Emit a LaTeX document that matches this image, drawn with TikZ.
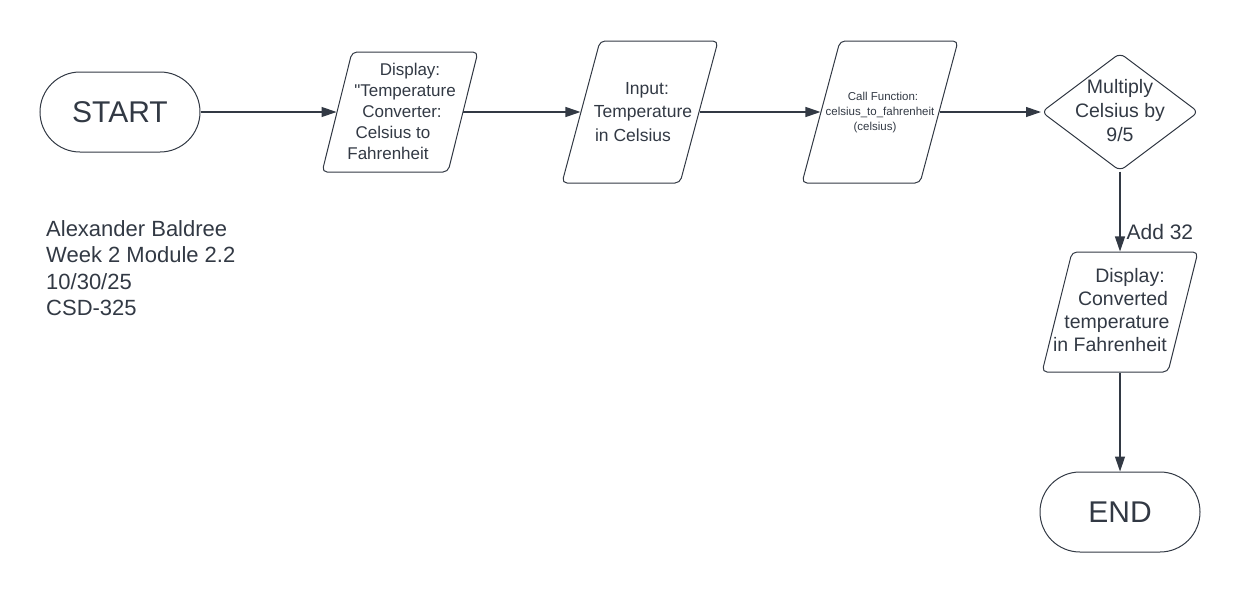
\documentclass[tikz,border=0pt]{standalone}
\usepackage{fontspec}
\setmainfont{Liberation Sans}[Ligatures=TeXOff]
\usepackage{xcolor}
\usepackage{tikz}
\usetikzlibrary{positioning}
\usetikzlibrary{shapes.geometric}
\usetikzlibrary{arrows.meta}

\definecolor{ink}{RGB}{50,57,68}
% shift one centred line sideways by half the given length
\newcommand{\nudge}[1]{\hspace*{#1}}

\begin{document}
\begin{tikzpicture}[x=1pt, y=-1pt,
  every node/.style={text=ink},
  terminal/.style={draw=ink, line width=1pt, rectangle, rounded corners=40pt, minimum width=160pt, minimum height=80pt, font=\fontsize{30}{34}\selectfont},
  io/.style={draw=ink, line width=1pt, trapezium, trapezium left angle=76, trapezium right angle=104, rounded corners=5pt, inner xsep=48pt, inner ysep=60pt},
  tall/.style={inner xsep=40pt, inner ysep=71pt, trapezium left angle=75, trapezium right angle=105},
  decision/.style={draw=ink, line width=1pt, diamond, rounded corners=6pt, minimum width=157pt, minimum height=118pt, inner sep=0pt},
  txt/.style={align=center, inner sep=0pt, font=\fontsize{17}{21}\selectfont},
  flow/.style={draw=ink, line width=1.2pt, -{Triangle[length=15pt, width=10pt]}}
]
\useasboundingbox (0,0) rectangle (1240,592);

% top row
\node[terminal] (start) at (120,112) {START};
\node[io] (disp) at (400,112) {};
\node[txt] (disptxt) at (400,111) {\nudge{20pt}Display:\\\nudge{10pt}"Temperature\\\nudge{4pt}Converter:\\\nudge{-14pt}Celsius to\\\nudge{-24pt}Fahrenheit};
\node[io, tall] (input) at (640,112) {};
\node[txt, font=\fontsize{17.5}{23.5}\selectfont] (inputtxt) at (640,112) {\nudge{14pt}Input:\\\nudge{6pt}Temperature\\\nudge{-14pt}in Celsius};
\node[io, tall] (call) at (880,112) {};
\node[txt, font=\fontsize{11.5}{15}\selectfont] (calltxt) at (880,113) {\nudge{6pt}Call Function:\\celsius\_to\_fahrenheit\\\nudge{-10pt}(celsius)};
\node[decision] (mult) at (1120,112) {};
\node[txt, font=\fontsize{19.5}{24}\selectfont] (multtxt) at (1120,111) {Multiply\\Celsius by\\9/5};

% right column
\node[io] (show) at (1120,312) {};
\node[txt, font=\fontsize{19.5}{23}\selectfont] (showtxt) at (1120,310) {\nudge{20pt}Display:\\\nudge{6pt}Converted\\\nudge{-6pt}temperature\\\nudge{-20pt}in Fahrenheit};
\node[terminal] (stop) at (1120,512) {END};

% author block
\node[anchor=west, align=left, inner sep=0pt, font=\fontsize{22}{26.5}\selectfont] (author) at (46,268) {Alexander Baldree\\Week 2 Module 2.2\\10/30/25\\CSD-325};

\draw[flow] (start) -- (disp);
\draw[flow] (disp) -- (input);
\draw[flow] (input) -- (call);
\draw[flow] (call) -- (mult);
\draw[flow] (mult) -- node[pos=0.76, right=6pt, inner sep=0pt, font=\fontsize{21}{25}\selectfont] (addlbl) {Add 32} (show);
\draw[flow] (show) -- (stop);

\end{tikzpicture}
\end{document}
